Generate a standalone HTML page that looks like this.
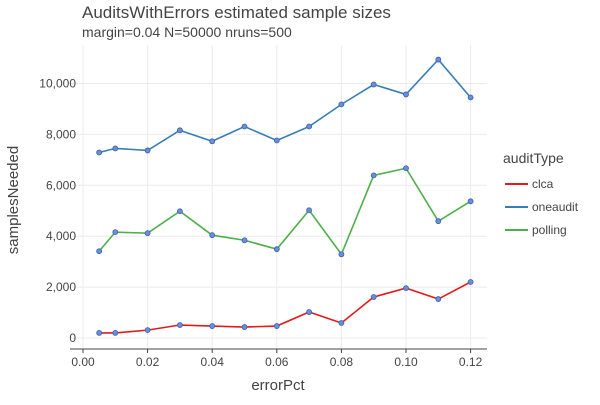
<!DOCTYPE html>
<html><head><meta charset="utf-8"><style>
body{margin:0;background:#fff;font-family:"Liberation Sans",sans-serif}
svg text{font-family:"Liberation Sans",sans-serif;fill:#444}
</style></head><body>
<svg id="chart" width="600" height="400" xmlns="http://www.w3.org/2000/svg">
<text x="82" y="18" font-size="17">AuditsWithErrors estimated sample sizes</text>
<text x="82" y="37" font-size="14">margin=0.04 N=50000 nruns=500</text>
<g id="grid"></g>
<g id="axes"></g>
<g id="series"></g>
<text x="278" y="390" font-size="15" text-anchor="middle">errorPct</text>
<text x="18" y="200" font-size="15" text-anchor="middle" transform="rotate(-90 18 200)">samplesNeeded</text>
<g id="legend"></g>
</svg>
<script>
const errorPct=[0.005,0.01,0.02,0.03,0.04,0.05,0.06,0.07,0.08,0.09,0.10,0.11,0.12];
const clca=[200,200,310,510,470,430,470,1020,590,1610,1960,1530,2200];
const oneaudit=[7290,7450,7370,8160,7730,8310,7760,8310,9180,9960,9570,10940,9450];
const polling=[3410,4160,4120,4980,4040,3840,3490,5020,3290,6390,6670,4590,5370];
const xTicks=[0,0.02,0.04,0.06,0.08,0.10,0.12];
const xTickLabels=["0.00","0.02","0.04","0.06","0.08","0.10","0.12"];
const yTicks=[0,2000,4000,6000,8000,10000];
const yTickLabels=["0","2,000","4,000","6,000","8,000","10,000"];
const seriesNames=["clca","oneaudit","polling"];
const seriesColors=["#e41a1c","#377eb8","#4daf4a"];
const X=v=>83+v*3230;
const Y=v=>338-v*0.02545;
const NS="http://www.w3.org/2000/svg";
function mk(t,a,p){const e=document.createElementNS(NS,t);for(const k in a)e.setAttribute(k,a[k]);p.appendChild(e);return e;}
const grid=document.getElementById('grid'),axes=document.getElementById('axes'),ser=document.getElementById('series'),leg=document.getElementById('legend');
xTicks.forEach((t,i)=>{
 const l=mk('line',{x1:X(t),x2:X(t),y1:45,y2:349,stroke:'#ebebeb'},grid);
 
 
 const tk=mk('line',{x1:X(t),x2:X(t),y1:349,y2:353,stroke:'#444'},axes);
 
 
 const tx=mk('text',{x:X(t),y:366,'font-size':12,'text-anchor':'middle'},axes);tx.textContent=xTickLabels[i];
 
 
});
yTicks.forEach((t,i)=>{
 const l=mk('line',{x1:70,x2:487,y1:Y(t),y2:Y(t),stroke:'#ebebeb'},grid);
 
 
 const tx=mk('text',{x:76,y:Y(t)+4,'font-size':12,'text-anchor':'end'},axes);tx.textContent=yTickLabels[i];
 
 
});
const ax=mk('line',{x1:70,x2:487,y1:349,y2:349,stroke:'#444'},axes);


[clca,oneaudit,polling].forEach((vals,s)=>{
 const p=mk('polyline',{points:vals.map((v,i)=>X(errorPct[i])+','+Y(v)).join(' '),fill:'none',stroke:seriesColors[s],'stroke-width':1.6},ser);
 
 
 vals.forEach((v,i)=>{
  const c=mk('circle',{cx:X(errorPct[i]),cy:Y(v),r:2.5,fill:'#6a8fd8',stroke:'#3a5fb0','stroke-width':0.8},ser);
  
  
 });
});
const lt=mk('text',{x:503,y:163,'font-size':14},leg);lt.textContent='auditType';


seriesNames.forEach((n,i)=>{
 const y=184+i*23;
 const l=mk('line',{x1:505,x2:528,y1:y,y2:y,stroke:seriesColors[i],'stroke-width':2},leg);
 
 
 const t=mk('text',{x:532,y:y+4,'font-size':12},leg);t.textContent=n;
 
 
});
</script>
</body></html>
